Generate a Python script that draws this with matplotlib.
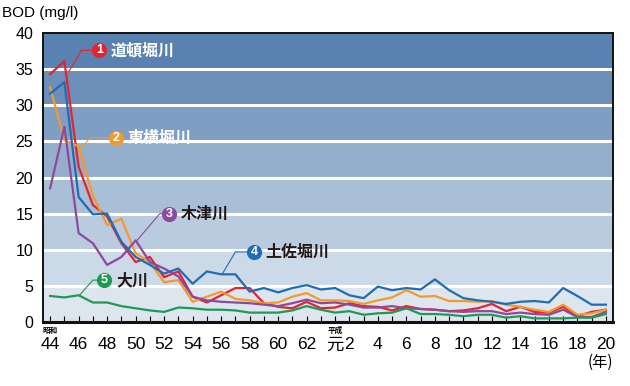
import matplotlib.pyplot as plt
import matplotlib.transforms as mtransforms
from matplotlib import font_manager

plt.rcParams['font.family'] = ['Liberation Sans', 'Noto Sans CJK JP']

years = list(range(1969, 2009))

# BOD (mg/l), 1969 (S44) .. 2008 (H20)
dotonbori = [34.3, 36.1, 21.5, 16.2, 14.6, 10.9, 8.3, 9.0, 6.2, 7.0,
             3.5, 2.7, 3.7, 4.7, 4.7, 2.6, 2.1, 1.9, 2.8, 1.9,
             2.0, 2.6, 2.2, 2.1, 1.6, 2.2, 1.8, 1.7, 1.5, 1.6,
             1.9, 2.5, 1.5, 2.1, 1.4, 1.3, 2.1, 0.8, 1.4, 1.7]
higashiyokobori = [32.5, 25.2, 24.3, 17.5, 13.4, 14.3, 9.5, 8.3, 5.5, 5.8,
                   2.8, 3.5, 4.2, 3.2, 3.0, 2.6, 2.7, 3.5, 4.0, 3.0,
                   3.0, 2.9, 2.5, 3.0, 3.4, 4.4, 3.5, 3.6, 2.9, 2.9,
                   2.8, 2.9, 2.4, 2.1, 1.7, 1.4, 2.4, 1.0, 1.2, 1.7]
kizugawa = [18.5, 27.0, 12.3, 10.9, 7.9, 9.0, 11.3, 8.3, 7.4, 6.3,
            3.5, 3.0, 2.8, 2.7, 2.6, 2.4, 2.2, 2.6, 3.1, 2.6,
            2.7, 2.4, 2.0, 2.0, 2.2, 1.9, 1.8, 1.7, 1.5, 1.4,
            1.5, 1.5, 1.1, 1.3, 1.1, 1.0, 1.7, 0.7, 0.7, 1.4]
tosabori = [31.6, 33.2, 17.3, 14.9, 15.0, 11.1, 9.0, 7.9, 6.7, 7.4,
            5.3, 7.0, 6.6, 6.6, 4.2, 4.7, 4.1, 4.7, 5.1, 4.5,
            4.7, 3.7, 3.3, 4.9, 4.4, 4.7, 4.5, 5.9, 4.4, 3.3,
            3.0, 2.8, 2.5, 2.8, 2.9, 2.7, 4.7, 3.6, 2.4, 2.4]
okawa = [3.6, 3.4, 3.7, 2.7, 2.7, 2.2, 1.9, 1.6, 1.4, 2.0,
         1.9, 1.7, 1.7, 1.6, 1.3, 1.3, 1.3, 1.6, 2.2, 1.7,
         1.3, 1.5, 1.0, 1.2, 1.3, 1.9, 1.1, 1.1, 1.0, 0.8,
         1.0, 1.0, 0.6, 0.8, 0.5, 0.5, 0.5, 0.6, 0.6, 1.1]

tick_years = list(range(1969, 1988, 2)) + [1989] + list(range(1990, 2009, 2))
tick_labels = [str(y - 1925) if y < 1989 else ('元' if y == 1989 else str(y - 1988))
               for y in tick_years]

# series: values, colour, number, name, name colour
series = [
    (dotonbori, '#e52330', '1', '道頓堀川', 'white'),
    (higashiyokobori, '#f39a2b', '2', '東横堀川', 'white'),
    (kizugawa, '#8d4a9c', '3', '木津川', '#231815'),
    (tosabori, '#1f6db4', '4', '土佐堀川', '#231815'),
    (okawa, '#1e9a52', '5', '大川', '#231815'),
]

# leader line points (last point = circle centre)
leaders = {
    '1': [(1970.3, 34.6), (1971.2, 37.6), (1972.45, 37.6)],
    '2': [(1971.0, 23.6), (1971.8, 25.5), (1973.6, 25.5)],
    '3': [(1975.1, 11.3), (1976.7, 15.0), (1977.35, 15.0)],
    '4': [(1981.1, 6.7), (1982.0, 9.7), (1983.3, 9.7)],
    '5': [(1971.06, 3.7), (1972.0, 5.8), (1972.8, 5.8)],
}

band_colors = ['#dde6ef', '#ccd9e7', '#bacbdf', '#a9bed7', '#95aecc',
               '#7f9ec3', '#6b8fb9', '#5a82b0']

installed = {f.name for f in font_manager.fontManager.ttflist}
num_font = 'Liberation Sans Narrow' if 'Liberation Sans Narrow' in installed else 'Liberation Sans'
jp = ['Noto Sans CJK JP']

fig = plt.figure(figsize=(6.3, 3.86), dpi=100)
ax = fig.add_axes([43 / 630, 1 - 322 / 386, 570 / 630, 289 / 386])

for i, c in enumerate(band_colors):
    ax.axhspan(i * 5, i * 5 + 5, color=c, lw=0, zorder=0)
for y in range(5, 40, 5):
    ax.axhline(y, color='white', lw=2.2, zorder=1)

for vals, color, num, name, tcolor in series:
    ax.plot(years, vals, color=color, lw=1.6, zorder=3)
    pts = leaders[num]
    ax.plot([p[0] for p in pts], [p[1] for p in pts], color=color, lw=0.8, zorder=4)
    cx, cy = pts[-1]
    ax.scatter([cx], [cy], s=120, color=color, zorder=5, linewidths=0)
    ax.text(cx, cy, num, color='white', fontsize=9, fontweight='bold',
            ha='center', va='center', zorder=6)
    ax.annotate(name, xy=(cx, cy), xytext=(8.5, 0), textcoords='offset points',
                color=tcolor, fontsize=11.5, va='center', ha='left', zorder=6,
                family=jp, fontweight='bold')

ax.set_xlim(1968.5, 2008.5)
ax.set_ylim(0, 40)
ax.set_yticks(range(0, 41, 5))
ax.tick_params(axis='y', length=0, pad=7, labelsize=11.5)
ax.set_xticks(tick_years)
ax.set_xticklabels(tick_labels)
ax.set_xticks(years, minor=True)
ax.tick_params(axis='x', which='both', direction='in', length=4, width=0.8,
               pad=11, labelsize=12.5)
for lab in ax.get_xticklabels():
    lab.set_family([num_font, 'Noto Sans CJK JP'])

for s in ax.spines.values():
    s.set_linewidth(1.4)
    s.set_color('#111111')
ax.spines['bottom'].set_linewidth(2.2)

trans = mtransforms.blended_transform_factory(ax.transData, ax.transAxes)
ax.text(1969, -0.013, '昭和', transform=trans, fontsize=5.5, ha='center', va='top',
        family=jp, fontweight='bold')
ax.text(1989, -0.013, '平成', transform=trans, fontsize=5.5, ha='center', va='top',
        family=jp, fontweight='bold')

fig.text(0.003, 1 - 13 / 386, 'BOD (mg/l)', fontsize=11, ha='left', va='center')
fig.text(600 / 630, 1 - 362 / 386, '(年)', fontsize=11, ha='center', va='center',
         family=jp)

fig.savefig('out.png', dpi=100)
